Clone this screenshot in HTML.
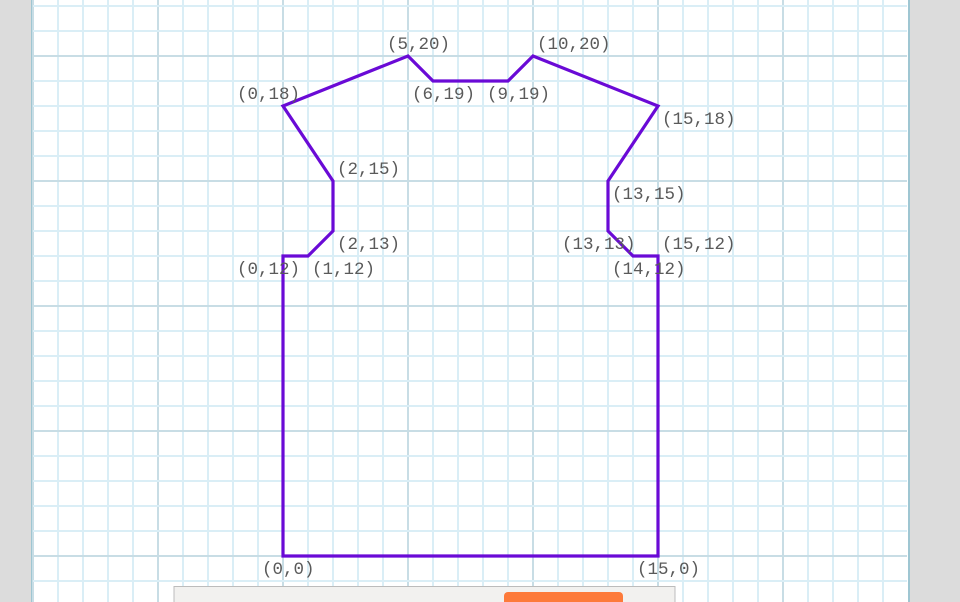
<!DOCTYPE html>
<html><head><meta charset="utf-8"><style>
html,body{margin:0;padding:0;background:#dcdcdc;width:960px;height:602px;overflow:hidden}
svg{display:block}
</style></head><body>
<svg width="960" height="602" xmlns="http://www.w3.org/2000/svg">
<rect x="32" y="-2" width="877" height="610" fill="#fff" stroke="#9fc6d2" stroke-width="2"/>
<g id="grid"></g>
<polygon id="shape" fill="none" stroke="#6a0ad6" stroke-width="3.2" stroke-linejoin="miter"/>
<g id="labels" font-family="'Liberation Mono', monospace" font-size="17.5" fill="#5a5a5a"></g>
<rect x="174" y="586.5" width="501" height="30" fill="#f2f1ef" stroke="#bcbcbc"/>
<rect x="504" y="592" width="119" height="30" rx="4" fill="#fd7a3a"/>
</svg>
<script>
const xs = [0,1,2,2,0,5,6,9,10,15,13,13,14,15,15,0];
const ys = [12,12,13,15,18,20,19,19,20,18,15,13,12,12,0,0];
// label placement codes: a=above, b=below; l=left, r=right, c=center
const placement = ['bl','br','br','ar','al','ac','bc','bc','ar','br','br','bl','bc','ar','bc','bc'];
const pointNames = ['(0,12)','(1,12)','(2,13)','(2,15)','(0,18)','(5,20)','(6,19)','(9,19)','(10,20)','(15,18)','(13,15)','(13,13)','(14,12)','(15,12)','(15,0)','(0,0)'];
const X = v => 283 + v*25;
const Y = v => 556 - v*25;
const NS = 'http://www.w3.org/2000/svg';
const grid = document.getElementById('grid');
for (let k = -10; k <= 25; k++) {
  const x = X(k);
  if (x < 33 || x > 907) continue;
  const l = document.createElementNS(NS,'line');
  l.setAttribute('x1',x);l.setAttribute('x2',x);l.setAttribute('y1',0);l.setAttribute('y2',602);
  l.setAttribute('stroke', k%5===0 ? '#c8dde5' : '#daeef6');
  l.setAttribute('stroke-width', 2);
  
  
  grid.appendChild(l);
}
for (let k = -2; k <= 22; k++) {
  const y = Y(k);
  if (y < 0 || y > 602) continue;
  const l = document.createElementNS(NS,'line');
  l.setAttribute('x1',33);l.setAttribute('x2',907);l.setAttribute('y1',y);l.setAttribute('y2',y);
  l.setAttribute('stroke', k%5===0 ? '#c8dde5' : '#daeef6');
  l.setAttribute('stroke-width', 2);
  
  
  grid.appendChild(l);
}
document.getElementById('shape').setAttribute('points', xs.map((v,i)=>X(v)+','+Y(ys[i])).join(' '));
const lg = document.getElementById('labels');
function addLabel(txt, px, py, pl) {
  const t = document.createElementNS(NS,'text');
  let x = X(px), y = Y(py);
  if (pl[1]==='r') x += 4;
  else if (pl[1]==='l') x -= 46;
  else x -= 21;
  y += pl[0]==='a' ? -7 : 18;
  t.setAttribute('x', x); t.setAttribute('y', y);
  t.textContent = txt;
  
  
  lg.appendChild(t);
}
pointNames.forEach((n,i)=>addLabel(n, xs[i], ys[i], placement[i]));
</script>
</body></html>
